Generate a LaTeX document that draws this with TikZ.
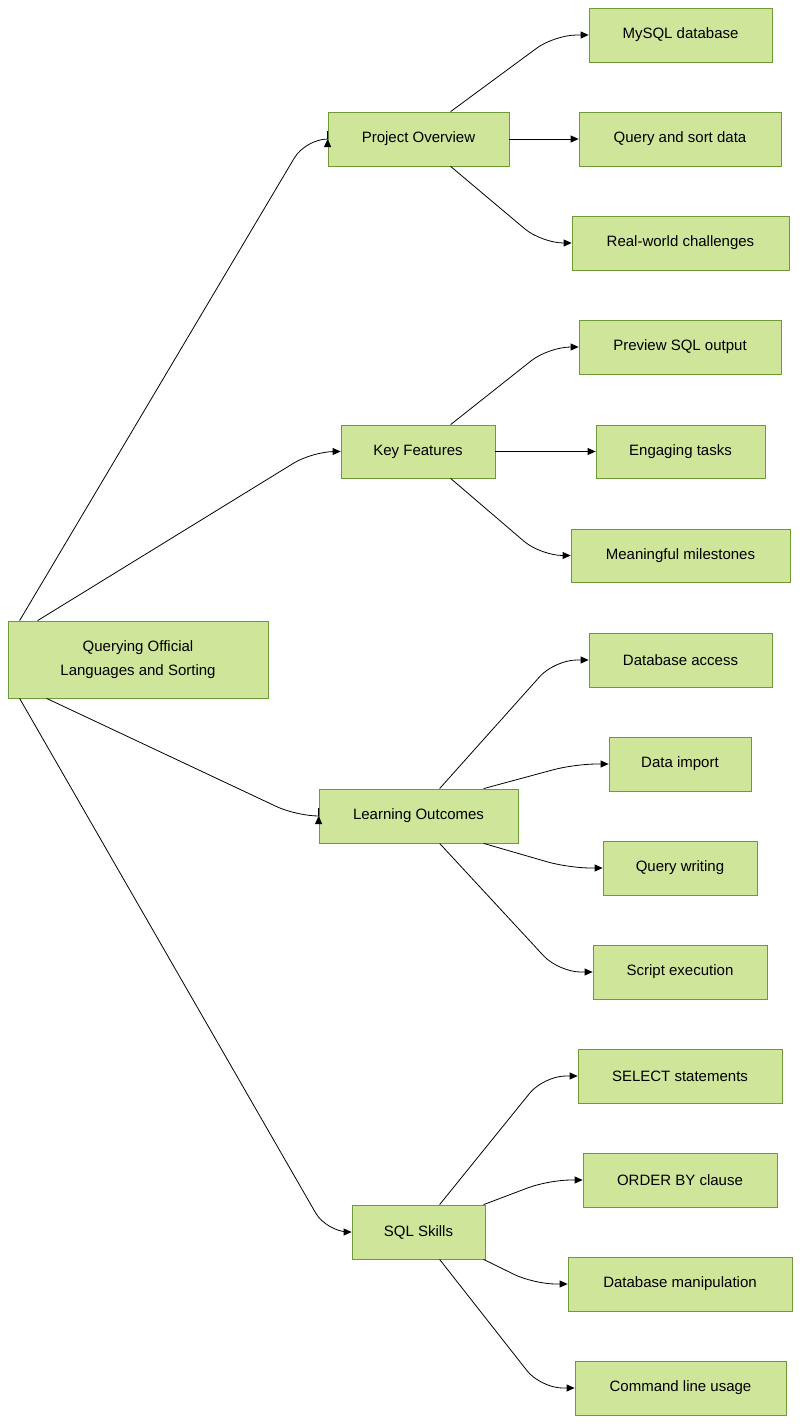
\documentclass[tikz,border=0pt]{standalone}
\usepackage{fontspec}
\setmainfont{Liberation Sans}
\usetikzlibrary{arrows.meta}
\definecolor{boxfill}{HTML}{CEE59A}
\definecolor{boxdraw}{HTML}{6E9A3A}
\begin{document}
\begin{tikzpicture}[x=1pt,y=-1pt,
  box/.style={draw=boxdraw,fill=boxfill,line width=0.8pt,inner sep=0pt,font=\fontsize{15}{24}\selectfont,align=center},
  conn/.style={-{Triangle[length=8pt,width=7pt]},line width=0.8pt,rounded corners=22pt}]
\useasboundingbox (0,0) rectangle (800,1424);
\newcommand\bx[6]{\node[box,minimum width=#4-#2,minimum height=#5-#3] (#1) at ({(#2+#4)/2},{(#3+#5)/2}) {#6};}
\bx{root}{8}{621}{268}{698}{Querying Official\\Languages and Sorting}
\bx{po}{328}{112}{509}{166}{Project Overview}
\bx{kf}{341}{425}{495}{478}{Key Features}
\bx{lo}{319}{789}{518}{843}{Learning Outcomes}
\bx{sq}{352}{1205}{485}{1259}{SQL Skills}
\bx{a1}{589}{8}{772}{62}{MySQL database}
\bx{a2}{579}{112}{781}{166}{Query and sort data}
\bx{a3}{572}{216}{789}{270}{Real-world challenges}
\bx{b1}{579}{320}{781}{374}{Preview SQL output}
\bx{b2}{596}{425}{765}{478}{Engaging tasks}
\bx{b3}{571}{529}{790}{582}{Meaningful milestones}
\bx{c1}{589}{633}{772}{687}{Database access}
\bx{c2}{609}{737}{751}{791}{Data import}
\bx{c3}{603}{841}{757}{895}{Query writing}
\bx{c4}{593}{945}{767}{999}{Script execution}
\bx{d1}{578}{1049}{782}{1103}{SELECT statements}
\bx{d2}{583}{1153}{777}{1207}{ORDER BY clause}
\bx{d3}{568}{1257}{792}{1311}{Database manipulation}
\bx{d4}{575}{1361}{786}{1415}{Command line usage}
% root
\draw[conn] ([xshift=12pt]root.north west) -- ([xshift=-22pt]po.west) -- (po.west);
\draw[conn] ([xshift=30pt]root.north west) -- ([xshift=-28pt]kf.west) -- (kf.west);
\draw[conn] ([xshift=39pt]root.south west) -- ([xshift=-22pt]lo.west) -- (lo.west);
\draw[conn] ([xshift=12pt]root.south west) -- ([xshift=-25pt]sq.west) -- (sq.west);
% po
\draw[conn] ([xshift=123pt]po.north west) -- ([xshift=-34pt]a1.west) -- (a1.west);
\draw[conn] (po.east) -- (a2.west);
\draw[conn] ([xshift=123pt]po.south west) -- ([xshift=-30pt]a3.west) -- (a3.west);
% kf
\draw[conn] ([xshift=110pt]kf.north west) -- ([xshift=-30pt]b1.west) -- (b1.west);
\draw[conn] (kf.east) -- (b2.west);
\draw[conn] ([xshift=110pt]kf.south west) -- ([xshift=-30pt]b3.west) -- (b3.west);
% lo
\draw[conn] ([xshift=121pt]lo.north west) -- ([xshift=-34pt]c1.west) -- (c1.west);
\draw[conn] ([xshift=165pt]lo.north west) -- ([xshift=-34pt]c2.west) -- (c2.west);
\draw[conn] ([xshift=165pt]lo.south west) -- ([xshift=-34pt]c3.west) -- (c3.west);
\draw[conn] ([xshift=121pt]lo.south west) -- ([xshift=-34pt]c4.west) -- (c4.west);
% sq
\draw[conn] ([xshift=88pt]sq.north west) -- ([xshift=-34pt]d1.west) -- (d1.west);
\draw[conn] ([xshift=132pt]sq.north west) -- ([xshift=-34pt]d2.west) -- (d2.west);
\draw[conn] ([xshift=132pt]sq.south west) -- ([xshift=-34pt]d3.west) -- (d3.west);
\draw[conn] ([xshift=88pt]sq.south west) -- ([xshift=-34pt]d4.west) -- (d4.west);
\end{tikzpicture}
\end{document}
